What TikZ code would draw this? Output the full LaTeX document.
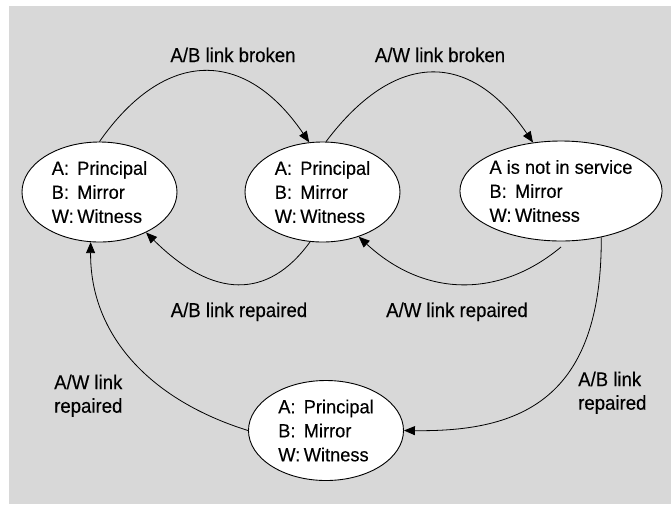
\documentclass[tikz,border=0pt]{standalone}
\usepackage{fontspec}
\setmainfont{Liberation Sans}
\newfontfamily\statefont[FakeStretch=0.96,FakeBold=0.3]{Liberation Sans}
\newfontfamily\tagfont[FakeStretch=0.93,FakeBold=0.3]{Liberation Sans}
\usetikzlibrary{arrows.meta,shapes.geometric}
\definecolor{panelgray}{RGB}{216,216,216}
\newcommand\rolelbl[1]{\makebox[25.5pt][l]{#1}}
\begin{document}
\begin{tikzpicture}[x=1pt,y=-1pt,
  state/.style={ellipse,draw,fill=white,line width=0.9pt,inner sep=0pt,
    minimum width=155pt,minimum height=100pt,align=left,
    font=\statefont\fontsize{19}{24}\selectfont},
  wide state/.style={state,minimum width=202pt},
  link/.style={draw,line width=0.8pt,-{Triangle[length=11pt,width=9pt]}},
  tag/.style={font=\tagfont\fontsize{20}{23.5}\selectfont,inner sep=0pt,align=left}]
  % page and grey panel
  \useasboundingbox (0,0) rectangle (671,504);
  \fill[white] (0,0) rectangle (671,504);
  \fill[panelgray] (9,6) rectangle (671,504);

  % states
  \node[state] (e1) at (99.5,192) {\rolelbl{A:}Principal\\\rolelbl{B:}Mirror\\\rolelbl{W:}Witness};
  \node[state] (e2) at (322.5,192) {\rolelbl{A:}Principal\\\rolelbl{B:}Mirror\\\rolelbl{W:}Witness};
  \node[wide state] (e3) at (561,191) {A is not in service\\\rolelbl{B:}Mirror\\\rolelbl{W:}Witness};
  \node[state] (e4) at (326,430.5) {\rolelbl{A:}Principal\\\rolelbl{B:}Mirror\\\rolelbl{W:}Witness};
  \coordinate (w4) at (561,247);

  % transitions
  \draw[link] (e1.north) .. controls (165,48) and (245,48) .. (e2.105);
  \draw[link] (e2.86) .. controls (395,50) and (470,50) .. (e3.120);
  \draw[link] (e2.256) .. controls (268,300) and (213,299) .. (e1.-41);
  \draw[link] (w4) .. controls (500,298) and (425,298) .. (e2.-51);
  \draw[link] (e3.-49) .. controls (602,400) and (520,432) .. (e4.east);
  \draw[link] (e4.west) .. controls (150,400) and (90,335) .. (e1.-100);

  % transition labels
  \node[tag,anchor=base] (t1) at (233,62) {A/B link broken};
  \node[tag,anchor=base] (t2) at (440,62) {A/W link broken};
  \node[tag,anchor=base] (t3) at (239,317) {A/B link repaired};
  \node[tag,anchor=base] (t4) at (457,317) {A/W link repaired};
  \node[tag,anchor=north west] (t5) at (54,374.5) {A/W link\\repaired};
  \node[tag,anchor=north west] (t6) at (578,371.5) {A/B link\\repaired};
\end{tikzpicture}
\end{document}
